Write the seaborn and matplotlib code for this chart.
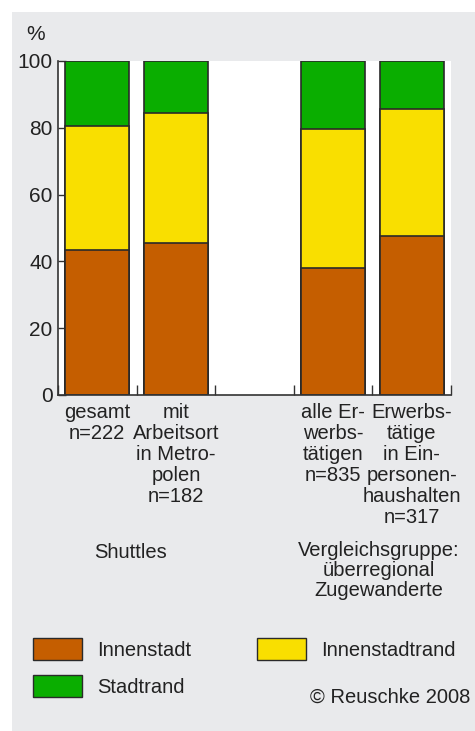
import numpy as np
import seaborn as sns
import matplotlib.pyplot as plt
from matplotlib.patches import Patch, Rectangle

# Daten (Anteile in %)
gruppen = ["gesamt", "metropolen", "leer", "alle", "einpersonen"]
balken = ["gesamt", "metropolen", "alle", "einpersonen"]
beschriftung = [
    "gesamt\nn=222",
    "mit\nArbeitsort\nin Metro-\npolen\nn=182",
    "",
    "alle Er-\nwerbs-\ntätigen\nn=835",
    "Erwerbs-\ntätige\nin Ein-\npersonen-\nhaushalten\nn=317",
]
innenstadt = [43.5, 45.5, 38, 47.5]
innenstadtrand = [37, 39, 41.5, 38]
stadtrand = [19.5, 15.5, 20.5, 14.5]

farben = {"Innenstadt": "#C55E00", "Innenstadtrand": "#F9DF00", "Stadtrand": "#0AAE00"}
kante = "#2a2a2a"
text_farbe = "#222222"

sns.set_style("ticks")
plt.rcParams["font.family"] = ["Liberation Sans", "DejaVu Sans"]
plt.rcParams["text.color"] = text_farbe

fig = plt.figure(figsize=(4.75, 7.31), dpi=100)
fig.patch.set_facecolor("white")
fig.patches.append(Rectangle((12 / 475, 0), 1, 1 - 12 / 731, transform=fig.transFigure,
                             facecolor="#E9EAEC", edgecolor="none", zorder=-10))

ax = fig.add_axes([58 / 475, 336 / 731, 393 / 475, 334 / 731])
ax.set_facecolor("white")

# gestapelte Balken: von oben nach unten zeichnen
oben = np.array(innenstadt) + np.array(innenstadtrand) + np.array(stadtrand)
mitte = np.array(innenstadt) + np.array(innenstadtrand)
unten = np.array(innenstadt)
for werte, name in [(oben, "Stadtrand"), (mitte, "Innenstadtrand"), (unten, "Innenstadt")]:
    sns.barplot(x=balken, y=werte, order=gruppen, color=farben[name], saturation=1,
                width=0.81, edgecolor=kante, linewidth=1.2, ax=ax)

ax.set_xlim(-0.5, 4.5)
ax.set_ylim(0, 100)
ax.set_yticks(range(0, 101, 20))
ax.set_xticks(range(5))
ax.set_xticklabels(beschriftung, fontsize=14.5, color=text_farbe, linespacing=1.13, va="top")
ax.set_xticks(np.arange(-0.5, 5, 1), minor=True)
ax.tick_params(axis="x", which="major", length=0, pad=6)
ax.tick_params(axis="x", which="minor", direction="in", length=7, width=1, color="#333333")
ax.tick_params(axis="y", direction="in", length=6, width=1, color="#333333",
               labelsize=15, labelcolor=text_farbe, pad=4)
ax.set_xlabel("")
ax.set_ylabel("")
for s in ["top", "right"]:
    ax.spines[s].set_visible(False)
for s in ["left", "bottom"]:
    ax.spines[s].set_color("#333333")
    ax.spines[s].set_linewidth(1.2)

fig.text(36 / 475, 1 - 34 / 731, "%", fontsize=15, ha="center", va="center")
fig.text(131 / 475, 1 - 552 / 731, "Shuttles", fontsize=14.5, ha="center", va="center")
fig.text(379 / 475, 1 - 541 / 731, "Vergleichsgruppe:\nüberregional\nZugewanderte",
         fontsize=14.5, ha="center", va="top", linespacing=1.08)

handles = [Patch(facecolor=farben["Innenstadt"], edgecolor=kante, label="Innenstadt"),
           Patch(facecolor=farben["Stadtrand"], edgecolor=kante, label="Stadtrand"),
           Patch(facecolor=farben["Innenstadtrand"], edgecolor=kante, label="Innenstadtrand")]
fig.legend(handles=handles, ncol=2, loc="upper left", bbox_to_anchor=(33 / 475, 1 - 638 / 731),
           frameon=False, fontsize=14.5, handlelength=2.45, handleheight=1.33,
           handletextpad=0.75, labelspacing=0.72, columnspacing=3.25,
           borderpad=0, borderaxespad=0)

fig.text(470 / 475, 1 - 697 / 731, "© Reuschke 2008", fontsize=14.5, ha="right", va="center")

fig.savefig("out.png", dpi=100)
